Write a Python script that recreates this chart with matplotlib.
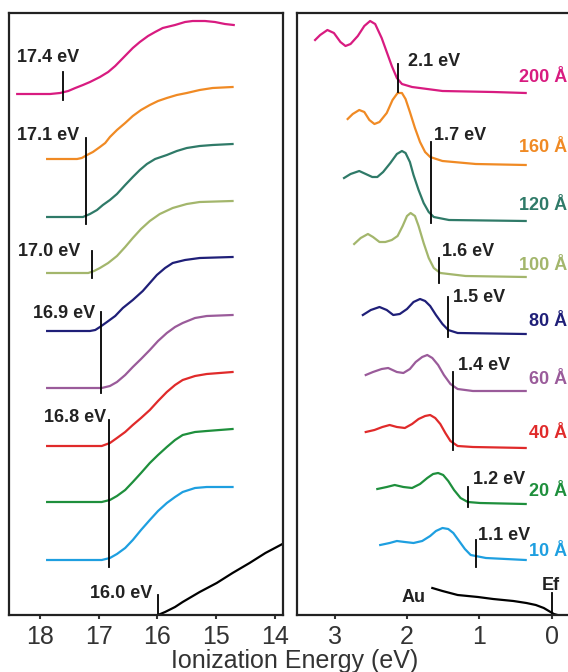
import matplotlib
matplotlib.use("Agg")
import matplotlib.pyplot as plt

plt.rcParams['font.family'] = ['Liberation Sans', 'DejaVu Sans']

# ---- data (energies in eV, intensities in arbitrary offset units) ----
thick = ['200 Å', '160 Å', '120 Å', '100 Å', '80 Å', '60 Å', '40 Å', '20 Å', '10 Å']
colors = ['#d81b80', '#f08a24', '#2f7a68', '#a3b66c', '#1f1f78',
          '#9a5b9a', '#e02a2a', '#1e8f3c', '#1e9fe0']

# left panel: secondary electron cutoff
e_thin = [17.88, 16.95, 16.81, 16.69, 16.55, 16.42, 16.28, 16.13, 15.99, 15.84, 15.70, 15.57, 15.36, 15.16, 14.72]
cut_e = [
    [18.39, 17.83, 17.66, 17.52, 17.40, 17.27, 17.15, 16.98, 16.84, 16.72, 16.57, 16.42, 16.30, 16.16,
     16.04, 15.91, 15.70, 15.53, 15.40, 15.19, 15.02, 14.85, 14.70],
    [17.88, 17.37, 17.29, 17.20, 17.10, 16.98, 16.89, 16.81, 16.69, 16.55, 16.42, 16.28, 16.13, 15.99,
     15.84, 15.67, 15.50, 15.28, 15.06, 14.72],
    [17.88, 17.27, 17.15, 17.03, 16.93, 16.81, 16.69, 16.55, 16.42, 16.30, 16.18, 16.04, 15.84, 15.67,
     15.50, 15.28, 15.06, 14.72],
    [17.88, 17.18, 17.08, 16.98, 16.84, 16.69, 16.55, 16.42, 16.28, 16.13, 15.96, 15.74, 15.50, 15.28, 14.72],
    [17.88, 17.15, 17.06, 16.98, 16.86, 16.72, 16.59, 16.42, 16.25, 16.13, 16.01, 15.87, 15.74, 15.53,
     15.28, 14.72],
    e_thin, e_thin, e_thin, e_thin,
]
cut_i = [
    [521, 521, 522, 524, 527, 530, 533, 538, 543, 549, 558, 567, 573, 579, 583, 587, 590, 593, 594, 594,
     593, 591, 590],
    [456, 456, 457, 460, 463, 468, 472, 478, 485, 492, 499, 505, 510, 514, 517, 520, 522, 525, 527, 528],
    [398, 398, 401, 405, 410, 415, 421, 430, 438, 445, 451, 456, 460, 464, 467, 469, 470, 471],
    [342, 342, 344, 347, 352, 359, 368, 377, 386, 394, 401, 407, 411, 413, 414],
    [284, 284, 285, 288, 293, 299, 307, 315, 324, 332, 340, 347, 352, 355, 357, 358],
    [227, 227, 229, 233, 240, 248, 256, 265, 274, 282, 288, 292, 297, 299, 300],
    [169, 169, 172, 177, 183, 190, 197, 205, 214, 223, 230, 235, 239, 241, 243],
    [113, 113, 115, 119, 125, 133, 142, 152, 160, 168, 175, 180, 183, 184, 186],
    [55, 55, 57, 61, 67, 75, 85, 95, 104, 112, 118, 123, 127, 128, 128],
]
au_cut_e = [15.99, 15.87, 15.70, 15.57, 15.28, 14.99, 14.72, 14.43, 14.16, 13.87]
au_cut_i = [0, 3, 8, 13, 23, 32, 42, 52, 62, 71]

# left markers and their labels
lm_e = [17.61, 17.22, 17.12, 16.96, 16.83, 15.99]
lm_lo = [515, 391, 337, 222, 48, 0]
lm_hi = [543, 477, 364, 303, 195, 20]
lm_txt = ['17.4 eV', '17.1 eV', '17.0 eV', '16.9 eV', '16.8 eV', '16.0 eV']
lm_tx = [17.87, 17.86, 17.84, 17.60, 17.40, 16.62]
lm_ty = [557, 480, 364, 302, 198, 22]

# right panel: valence region
val_e = [
    [3.27, 3.20, 3.10, 3.01, 2.92, 2.85, 2.78, 2.68, 2.59, 2.51, 2.44, 2.35, 2.28, 2.21, 2.14, 2.07,
     1.93, 1.72, 1.51, 0.81, 0.36],
    [2.82, 2.75, 2.66, 2.59, 2.52, 2.45, 2.38, 2.28, 2.20, 2.13, 2.07, 2.02, 1.96, 1.89, 1.82, 1.75,
     1.68, 1.51, 1.05, 0.36],
    [2.87, 2.78, 2.66, 2.57, 2.48, 2.41, 2.33, 2.23, 2.14, 2.07, 2.02, 1.96, 1.91, 1.84, 1.77, 1.70,
     1.63, 1.42, 0.36],
    [2.73, 2.64, 2.54, 2.47, 2.38, 2.30, 2.21, 2.13, 2.06, 2.00, 1.95, 1.89, 1.84, 1.77, 1.70, 1.63,
     1.54, 1.19, 0.36],
    [2.61, 2.50, 2.38, 2.28, 2.19, 2.10, 2.00, 1.91, 1.82, 1.75, 1.68, 1.60, 1.51, 1.43, 1.30, 0.36],
    [2.57, 2.47, 2.35, 2.26, 2.14, 2.05, 1.96, 1.88, 1.79, 1.72, 1.65, 1.57, 1.49, 1.40, 1.30, 1.09, 0.36],
    [2.57, 2.45, 2.34, 2.24, 2.14, 2.03, 1.93, 1.84, 1.75, 1.68, 1.61, 1.54, 1.47, 1.40, 1.30, 1.09, 0.36],
    [2.41, 2.28, 2.17, 2.05, 1.93, 1.82, 1.72, 1.64, 1.57, 1.50, 1.43, 1.35, 1.26, 1.16, 0.99, 0.36],
    [2.37, 2.24, 2.14, 2.03, 1.91, 1.79, 1.68, 1.60, 1.51, 1.43, 1.36, 1.29, 1.20, 1.12, 0.91, 0.36],
]
val_i = [
    [575, 580, 585, 582, 573, 569, 571, 579, 589, 594, 591, 577, 563, 549, 537, 531, 528, 526, 524, 523, 522],
    [496, 501, 505, 503, 495, 491, 493, 502, 515, 522, 522, 516, 503, 487, 473, 463, 458, 454, 451, 450],
    [437, 441, 444, 441, 438, 438, 443, 452, 461, 464, 462, 453, 440, 425, 412, 403, 398, 395, 394],
    [371, 377, 381, 378, 373, 373, 375, 379, 389, 399, 402, 399, 389, 372, 357, 347, 342, 339, 338],
    [300, 305, 308, 305, 300, 301, 306, 313, 316, 314, 309, 300, 291, 285, 282, 281],
    [240, 243, 246, 247, 243, 242, 246, 253, 258, 260, 257, 250, 240, 231, 226, 224, 224],
    [183, 185, 188, 190, 188, 187, 191, 196, 199, 200, 197, 191, 182, 174, 169, 168, 167],
    [126, 128, 130, 128, 127, 131, 137, 141, 142, 140, 134, 125, 117, 113, 112, 111],
    [70, 72, 74, 73, 72, 74, 79, 84, 87, 86, 82, 75, 66, 60, 57, 55],
]
au_val_e = [1.65, 1.51, 1.30, 1.02, 0.81, 0.53, 0.35, 0.22, 0.11, 0.04, -0.03, -0.13, -0.28]
au_val_i = [27, 24, 20, 18, 16, 14, 12, 10, 7, 4, 1, -1, -2]

rm_e = [2.12, 1.67, 1.56, 1.43, 1.36, 1.16, 1.05, 0.00]
rm_lo = [523, 392, 332, 278, 165, 108, 48, 0]
rm_hi = [551, 473, 357, 318, 243, 128, 75, 22]
rm_txt = ['2.1 eV', '1.7 eV', '1.6 eV', '1.5 eV', '1.4 eV', '1.2 eV', '1.1 eV']
rm_tx = [1.98, 1.63, 1.51, 1.37, 1.30, 1.09, 1.02]
rm_ty = [553, 480, 363, 318, 250, 135, 80]
lab_y = [538, 467, 410, 350, 294, 235, 182, 123, 63]

# ---- plotting ----
fig = plt.figure(figsize=(5.68, 6.72), dpi=100)
axl = fig.add_axes([9 / 568, 57 / 672, 274 / 568, 602 / 672])
axr = fig.add_axes([297 / 568, 57 / 672, 275 / 568, 602 / 672])

bold = dict(fontsize=13, fontweight='bold', va='center')

for e, i, c in zip(cut_e, cut_i, colors):
    axl.plot(e, i, color=c, lw=1.6)
axl.plot(au_cut_e, au_cut_i, color='black', lw=1.6)
for e, lo, hi in zip(lm_e, lm_lo, lm_hi):
    axl.plot([e, e], [lo, hi], color='black', lw=1.3)
for t, x, y in zip(lm_txt, lm_tx, lm_ty):
    axl.text(x, y, t, ha='center', color='#222222', **bold)

for e, i, c in zip(val_e, val_i, colors):
    axr.plot(e, i, color=c, lw=1.6)
axr.plot(au_val_e, au_val_i, color='black', lw=1.6)
for e, lo, hi in zip(rm_e, rm_lo, rm_hi):
    axr.plot([e, e], [lo, hi], color='black', lw=1.3)
for t, x, y in zip(rm_txt, rm_tx, rm_ty):
    axr.text(x, y, t, ha='left', color='#222222', **bold)
for t, y, c in zip(thick, lab_y, colors):
    axr.text(-0.21, y, t, ha='right', color=c, **bold)
axr.text(0.01, 30, 'Ef', ha='center', color='#222222', **bold)
axr.text(1.91, 17, 'Au', ha='center', color='#222222', **bold)

axl.set_xlim(18.53, 13.86)
axr.set_xlim(3.52, -0.28)
axl.set_xticks([18, 17, 16, 15, 14])
axr.set_xticks([3, 2, 1, 0])
for ax in (axl, axr):
    ax.set_ylim(0, 602)
    ax.set_yticks([])
    ax.tick_params(axis='x', direction='out', length=3, width=1.5, pad=4,
                   labelsize=18, colors='#333333')
    for s in ax.spines.values():
        s.set_linewidth(1.6)
        s.set_color('#222222')
axr.spines['right'].set_visible(False)

fig.text(295 / 568, 1 - 661 / 672, 'Ionization Energy (eV)', ha='center', va='center',
         fontsize=18, color='#333333')

fig.savefig('out.png', dpi=100)
